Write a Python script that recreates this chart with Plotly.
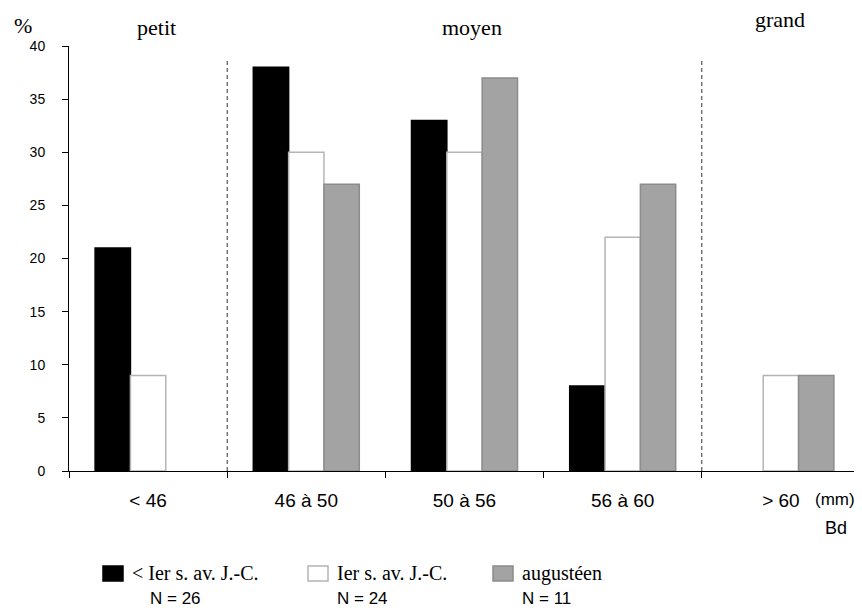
import plotly.graph_objects as go

categories = ["< 46", "46 à 50", "50 à 56", "56 à 60", "> 60"]
series_names = ["< Ier s. av. J.-C.", "Ier s. av. J.-C.", "augustéen"]
series_n = ["N = 26", "N = 24", "N = 11"]
vals_black = [21, 38, 33, 8, 0]
vals_white = [9, 30, 30, 22, 9]
vals_gray = [0, 27, 37, 27, 9]
y_ticks = [0, 5, 10, 15, 20, 25, 30, 35, 40]
group_labels = ["petit", "moyen", "grand"]

OFF = 8  # page body margin
W, H = 862 - OFF, 610 - OFF
L, R, T, B = 69, 860, 46, 471  # plot area in page pixels


def px(x):
    return (x - L) / (R - L)


def py(y):
    return (B - y) / (B - T)


fills = ["#000000", "#ffffff", "#a3a3a3"]
lines = ["#000000", "#b4b4b4", "#8c8c8c"]

fig = go.Figure()
for name, vals, fc, lc in zip(series_names, [vals_black, vals_white, vals_gray], fills, lines):
    fig.add_trace(go.Bar(x=categories, y=vals, name=name,
                         marker=dict(color=fc, line=dict(color=lc, width=[1.5 if v else 0 for v in vals])),
                         showlegend=False))

fig.update_layout(
    width=W, height=H,
    margin=dict(l=L - OFF, r=W - (R - OFF), t=T - OFF, b=H - (B - OFF), pad=0),
    paper_bgcolor="white", plot_bgcolor="white",
    barmode="group", bargap=0.33, bargroupgap=0,
    font=dict(family="Liberation Sans, Arial", color="#000"),
)
fig.update_xaxes(type="category", showline=True, linecolor="#000", linewidth=1,
                 ticks="outside", tickson="boundaries", ticklen=6, tickcolor="#000",
                 tickfont=dict(size=19, family="Liberation Sans, Arial"),
                 ticklabelstandoff=12, showgrid=False, zeroline=False,
                 range=[-0.5, 4.5])
fig.update_yaxes(range=[0, 40], tickvals=y_ticks, showline=True, linecolor="#000",
                 linewidth=1, ticks="outside", ticklen=6, tickcolor="#000",
                 tickfont=dict(size=14, family="Liberation Sans, Arial"),
                 ticklabelstandoff=14, showgrid=False, zeroline=False)

# dashed separators between size groups
for xv in [0.5, 3.5]:
    fig.add_shape(type="line", xref="x", yref="paper", x0=xv, x1=xv, y0=0, y1=py(60),
                  line=dict(color="#333", width=1, dash="4px,3px"))

serif = "Liberation Serif, Times New Roman"
ann = [
    dict(text="%", x=px(12), y=py(25), xanchor="left", font=dict(family=serif, size=22)),
    dict(text=group_labels[0], x=px(156), y=py(27), xanchor="center", font=dict(family=serif, size=22)),
    dict(text=group_labels[1], x=px(472), y=py(27), xanchor="center", font=dict(family=serif, size=22)),
    dict(text=group_labels[2], x=px(780), y=py(20), xanchor="center", font=dict(family=serif, size=22)),
    dict(text="(mm)", x=px(813), y=py(499), xanchor="left", font=dict(size=17)),
    dict(text="Bd", x=px(823), y=py(528), xanchor="left", font=dict(size=18)),
]
leg_x = [103, 308, 493]
for i, (nm, nn) in enumerate(zip(series_names, series_n)):
    x0 = leg_x[i]
    fig.add_shape(type="rect", xref="paper", yref="paper",
                  x0=px(x0), x1=px(x0 + 20), y0=py(581), y1=py(566),
                  fillcolor=fills[i], line=dict(color=lines[i], width=1.5))
    ann.append(dict(text=nm, x=px(x0 + 27), y=py(573), xanchor="left",
                    font=dict(family=serif, size=20)))
    ann.append(dict(text=nn, x=px(x0 + 27 + (18 if i == 0 else 0)), y=py(598), xanchor="left",
                    font=dict(size=17)))
for a in ann:
    a.update(xref="paper", yref="paper", yanchor="middle", showarrow=False)
    fig.add_annotation(**a)

fig.write_html("out.html")
